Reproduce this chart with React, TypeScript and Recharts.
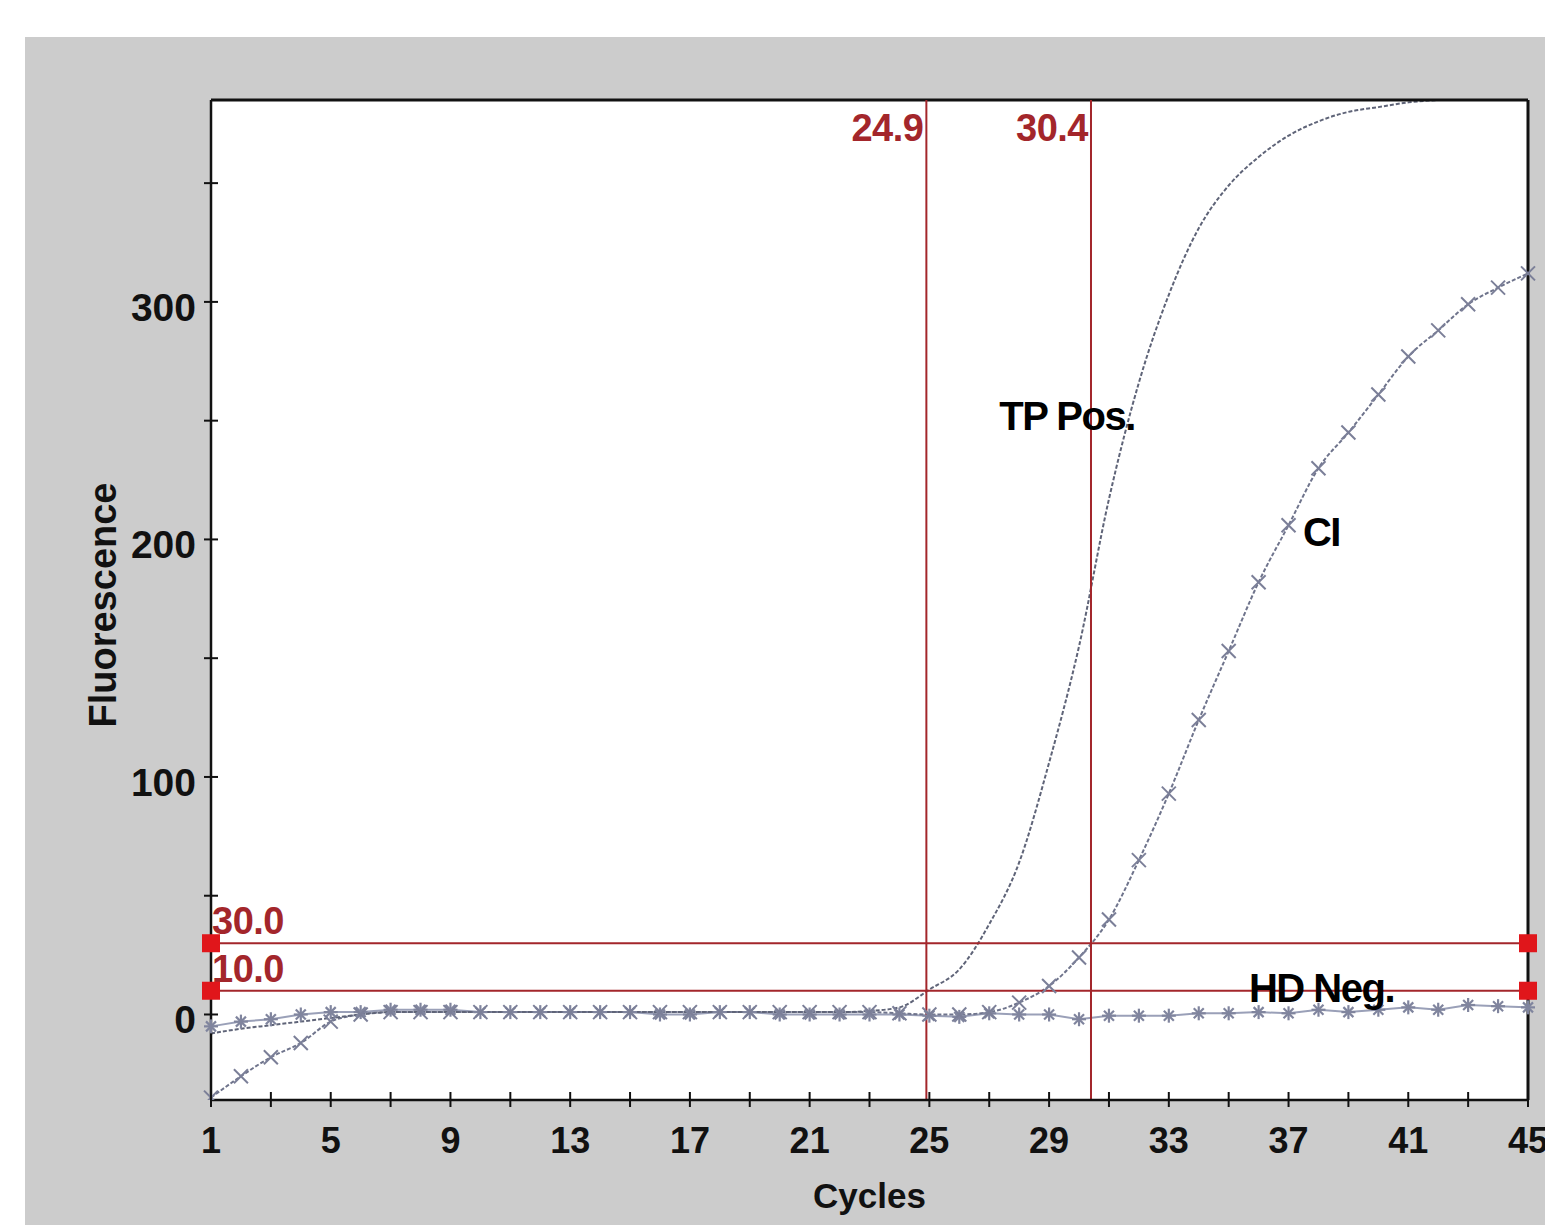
import React from "react";
import {
  LineChart,
  Line,
  XAxis,
  YAxis,
  CartesianGrid,
  ReferenceLine,
  ReferenceDot,
} from "recharts";

// cycle numbers
const cycles = [
  1, 2, 3, 4, 5, 6, 7, 8, 9, 10, 11, 12, 13, 14, 15, 16, 17, 18, 19, 20, 21, 22, 23,
  24, 25, 26, 27, 28, 29, 30, 31, 32, 33, 34, 35, 36, 37, 38, 39, 40, 41, 42, 43, 44, 45,
];

// fluorescence per cycle
const tpPos = [
  -8, -6, -4.5, -3, -1.5, 0, 1, 1, 1, 1, 1, 1, 1, 1, 1, 1, 1, 1, 1, 1, 1, 1, 1.5, 3,
  10.5, 19, 38, 64, 106, 155, 217, 266, 303, 331, 349, 361, 370, 376, 380, 382, 384,
  385, 386, 387, 388,
];
const ci = [
  -35, -26, -18, -12, -3, 0, 1, 1, 1, 1, 1, 1, 1, 1, 1, 1, 1, 1, 1, 1, 1, 1, 1, 0.5, 0,
  0, 1, 5, 12, 24, 40, 65, 93, 124, 153, 182, 206, 230, 245, 261, 277, 288, 299, 306,
  312,
];
const hdNeg = [
  -5, -3, -2, 0, 1, 1, 2, 2, 2, 1, 1, 1, 1, 1, 1, 0, 0, 1, 1, 0, 0, 0, 0, 0, -0.5, -1,
  0.5, 0, 0, -2, -0.5, -0.5, -0.5, 0.5, 0.5, 1, 0.5, 2, 1, 2, 3, 2, 4, 3.5, 3,
];

// thresholds and Ct markers
const thresholds = [30, 10];
const thresholdLabels = ["30.0", "10.0"];
const ctValues = [24.9, 30.4];
const ctLabels = ["24.9", "30.4"];

// axis ticks
const xTicks = [1, 3, 5, 7, 9, 11, 13, 15, 17, 19, 21, 23, 25, 27, 29, 31, 33, 35, 37, 39, 41, 43, 45];
const xLabelled = [1, 5, 9, 13, 17, 21, 25, 29, 33, 37, 41, 45];
const yTicks = [0, 50, 100, 150, 200, 250, 300, 350];
const yLabelled = [0, 100, 200, 300];
const yMin = -36;
const yMax = 385;

// curve annotations (cycle, fluorescence, text)
const curveNames = [
  { x: 29.6, y: 252, text: "TP Pos." },
  { x: 38.1, y: 203, text: "CI" },
  { x: 38.1, y: 11, text: "HD Neg." },
];

const data = cycles.map((c, i) => ({
  cycle: c,
  tpPos: tpPos[i],
  ci: ci[i],
  hdNeg: hdNeg[i],
}));

const FONT = "'Liberation Sans', Arial, sans-serif";
const RED = "#a3262b";
const AXIS = "#111";

const XTick = (props: any) => {
  const { x, y, payload } = props;
  const show = xLabelled.includes(payload.value);
  return (
    <g>
      <line x1={x} x2={x} y1={y - 8} y2={y + 7} stroke={AXIS} strokeWidth={2} />
      {show && (
        <text
          x={x}
          y={y + 53}
          textAnchor="middle"
          fontFamily={FONT}
          fontWeight="bold"
          fontSize={36}
          fill="#111"
        >
          {payload.value}
        </text>
      )}
    </g>
  );
};

const YTick = (props: any) => {
  const { x, y, payload } = props;
  const show = yLabelled.includes(payload.value);
  return (
    <g>
      <line x1={x - 7} x2={x + 7} y1={y} y2={y} stroke={AXIS} strokeWidth={2} />
      {show && (
        <text
          x={x - 15}
          y={y + 19}
          textAnchor="end"
          fontFamily={FONT}
          fontWeight="bold"
          fontSize={39}
          fill="#111"
        >
          {payload.value}
        </text>
      )}
    </g>
  );
};

const Asterisk = (props: any) => {
  const { cx, cy, index } = props;
  if (cx == null || cy == null) return <g key={index} />;
  const r = 7;
  const d = 5;
  return (
    <g key={index} stroke="#80859e" strokeWidth={2.2}>
      <line x1={cx - r} x2={cx + r} y1={cy} y2={cy} />
      <line x1={cx} x2={cx} y1={cy - r} y2={cy + r} />
      <line x1={cx - d} x2={cx + d} y1={cy - d} y2={cy + d} />
      <line x1={cx - d} x2={cx + d} y1={cy + d} y2={cy - d} />
    </g>
  );
};

const Cross = (props: any) => {
  const { cx, cy, index } = props;
  if (cx == null || cy == null) return <g key={index} />;
  const d = 7;
  return (
    <g key={index} stroke="#7b7f98" strokeWidth={2}>
      <line x1={cx - d} x2={cx + d} y1={cy - d} y2={cy + d} />
      <line x1={cx - d} x2={cx + d} y1={cy + d} y2={cy - d} />
    </g>
  );
};

const RedSquare = (props: any) => {
  const { cx, cy } = props;
  return <rect x={cx - 9} y={cy - 9} width={18} height={18} fill="#e0161b" />;
};

export default function App() {
  return (
    <div
      style={{
        position: "absolute",
        left: 0,
        top: 0,
        width: 1545,
        height: 1225,
        background: "#fff",
        overflow: "hidden",
      }}
    >
      <div
        style={{
          position: "absolute",
          left: 25,
          top: 37,
          width: 1520,
          height: 1188,
          background: "#cccccc",
        }}
      />
      <div style={{ position: "absolute", left: 0, top: 0 }}>
        <LineChart
          width={1545}
          height={1225}
          data={data}
          margin={{ top: 100, right: 17, left: 25, bottom: 0 }}
        >
          <CartesianGrid horizontal={false} vertical={false} fill="#fff" />
          <XAxis
            dataKey="cycle"
            type="number"
            domain={[1, 45]}
            ticks={xTicks}
            interval={0}
            height={125}
            tickSize={0}
            tickMargin={0}
            tickLine={false}
            axisLine={{ stroke: AXIS, strokeWidth: 2.5 }}
            tick={<XTick />}
            label={{
              content: (p: any) => {
                const vb = p.viewBox || {};
                return (
                  <text
                    x={vb.x + vb.width / 2}
                    y={vb.y + 108}
                    textAnchor="middle"
                    fontFamily={FONT}
                    fontWeight="bold"
                    fontSize={35}
                    fill="#111"
                  >
                    Cycles
                  </text>
                );
              },
            }}
          />
          <YAxis
            type="number"
            domain={[yMin, yMax]}
            allowDataOverflow
            ticks={yTicks}
            interval={0}
            width={186}
            tickSize={0}
            tickMargin={0}
            tickLine={false}
            axisLine={{ stroke: AXIS, strokeWidth: 2.5 }}
            tick={<YTick />}
            label={{
              content: (p: any) => {
                const vb = p.viewBox || {};
                const cx = vb.x + 78;
                const cy = vb.y + vb.height / 2 + 5;
                return (
                  <text
                    x={cx}
                    y={cy}
                    transform={`rotate(-90 ${cx} ${cy})`}
                    textAnchor="middle"
                    dominantBaseline="central"
                    fontFamily={FONT}
                    fontWeight="bold"
                    fontSize={38}
                    fill="#111"
                  >
                    Fluorescence
                  </text>
                );
              },
            }}
          />

          <Line
            dataKey="hdNeg"
            type="linear"
            stroke="#9aa0b8"
            strokeWidth={2}
            dot={<Asterisk />}
            activeDot={false}
            isAnimationActive={false}
          />
          <Line
            dataKey="ci"
            type="monotone"
            stroke="#6f748c"
            strokeWidth={2}
            strokeDasharray="4 2"
            dot={<Cross />}
            activeDot={false}
            isAnimationActive={false}
          />
          <Line
            dataKey="tpPos"
            type="monotone"
            stroke="#5f6478"
            strokeWidth={2}
            strokeDasharray="4 2"
            dot={false}
            activeDot={false}
            isAnimationActive={false}
          />

          {/* plot frame, top and right */}
          <ReferenceLine y={yMax} stroke={AXIS} strokeWidth={3} />
          <ReferenceLine x={45} stroke={AXIS} strokeWidth={3} />

          {thresholds.map((t, i) => (
            <ReferenceLine
              key={"th" + t}
              y={t}
              stroke={RED}
              strokeWidth={2}
              label={{
                content: (p: any) => {
                  const vb = p.viewBox || {};
                  return (
                    <text
                      x={vb.x + 1}
                      y={vb.y - 9}
                      fontFamily={FONT}
                      fontWeight="bold"
                      fontSize={38}
                      letterSpacing={-0.5}
                      fill={RED}
                    >
                      {thresholdLabels[i]}
                    </text>
                  );
                },
              }}
            />
          ))}
          {ctValues.map((c, i) => (
            <ReferenceLine
              key={"ct" + c}
              x={c}
              stroke={RED}
              strokeWidth={2}
              label={{
                content: (p: any) => {
                  const vb = p.viewBox || {};
                  return (
                    <text
                      x={vb.x - 3}
                      y={vb.y + 41}
                      textAnchor="end"
                      fontFamily={FONT}
                      fontWeight="bold"
                      fontSize={38}
                      letterSpacing={-0.5}
                      fill={RED}
                    >
                      {ctLabels[i]}
                    </text>
                  );
                },
              }}
            />
          ))}
          {thresholds.map((t) => (
            <ReferenceDot key={"sl" + t} x={1} y={t} r={9} shape={<RedSquare />} ifOverflow="visible" />
          ))}
          {thresholds.map((t) => (
            <ReferenceDot key={"sr" + t} x={45} y={t} r={9} shape={<RedSquare />} ifOverflow="visible" />
          ))}

          {curveNames.map((n) => (
            <ReferenceDot
              key={n.text}
              x={n.x}
              y={n.y}
              r={0}
              fill="none"
              stroke="none"
              label={{
                content: (p: any) => {
                  const vb = p.viewBox || {};
                  const cx = vb.x + (vb.width || 0) / 2;
                  const cy = vb.y + (vb.height || 0) / 2;
                  return (
                    <text
                      x={cx}
                      y={cy}
                      textAnchor="middle"
                      dominantBaseline="central"
                      fontFamily={FONT}
                      fontWeight="bold"
                      fontSize={40}
                      letterSpacing={-1.5}
                      fill="#000"
                    >
                      {n.text}
                    </text>
                  );
                },
              }}
            />
          ))}
        </LineChart>
      </div>
    </div>
  );
}
